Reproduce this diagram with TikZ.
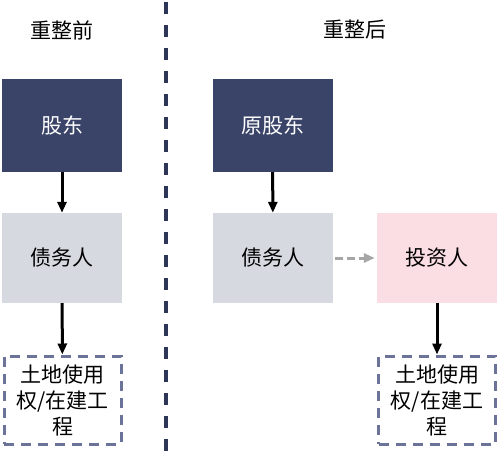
\documentclass[tikz,border=0pt]{standalone}
\usepackage{fontspec}
\setmainfont{Noto Sans CJK SC}
\usetikzlibrary{arrows.meta}
\definecolor{navy}{HTML}{3A4468}
\definecolor{lgrey}{HTML}{D6D9E0}
\definecolor{lpink}{HTML}{FBDEE3}
\definecolor{dashb}{HTML}{6B7399}
\definecolor{divc}{HTML}{2E3658}
\tikzset{
  solidbox/.style={minimum width=120pt, minimum height=93pt, inner sep=0pt, font=\fontsize{21}{25}\selectfont},
  darkbox/.style={solidbox, fill=navy, text=white},
  greybox/.style={solidbox, fill=lgrey, text=black, minimum height=90pt},
  pinkbox/.style={solidbox, fill=lpink, text=black, minimum height=90pt},
  landbox/.style={draw=dashb, line width=3pt, dash pattern=on 10pt off 7pt, minimum width=117pt, minimum height=88pt, inner sep=0pt, align=center, font=\fontsize{21}{26}\selectfont},
  title/.style={font=\fontsize{21}{25}\selectfont},
  arr/.style={-{Triangle[length=11pt,width=9pt]}, line width=3pt, black},
  garr/.style={-{Triangle[length=11pt,width=9pt]}, line width=3pt, gray!70, dash pattern=on 8pt off 4pt}
}
\begin{document}
\begin{tikzpicture}[x=1pt,y=-1pt]
\fill[white] (0,0) rectangle (500,461);
\useasboundingbox (0,0) rectangle (500,461);
\coordinate (dtop) at (166,2);
\coordinate (dbot) at (166,457);
\draw[divc, line width=3.2pt, dash pattern=on 12pt off 11pt] (dtop) -- (dbot);
\node[title] (t1) at (62,30) {重整前};
\node[title] (t2) at (355,30) {重整后};
\node[darkbox] (s1) at (62,125.5) {股东};
\node[greybox] (d1) at (62,258) {债务人};
\node[landbox] (l1) at (62.5,400) {土地使用\\权/在建工\\程};
\node[darkbox] (s2) at (272.5,125.5) {原股东};
\node[greybox] (d2) at (273,258) {债务人};
\node[pinkbox] (i2) at (437,258) {投资人};
\node[landbox] (l2) at (437,400) {土地使用\\权/在建工\\程};
\draw[arr] (s1) -- (d1);
\draw[arr] (d1) -- (l1);
\draw[arr] (s2) -- (d2);
\draw[garr] ([xshift=2pt]d2.east) -- ([xshift=-2pt]i2.west);
\draw[arr] (i2) -- (l2);
\end{tikzpicture}
\end{document}
